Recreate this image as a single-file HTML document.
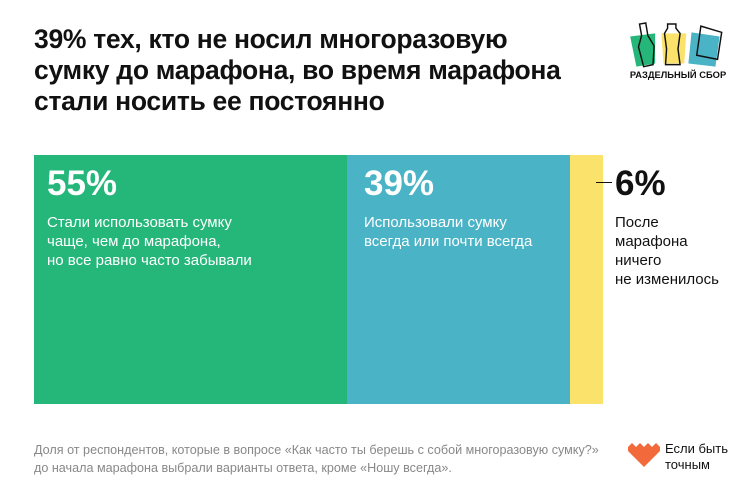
<!DOCTYPE html>
<html><head><meta charset="utf-8"><style>
body{margin:0;width:753px;height:500px;background:#fff;font-family:"Liberation Sans",sans-serif;position:relative;overflow:hidden;color:#111}
.t{position:absolute;left:34px;top:24px;font-size:26.5px;font-weight:bold;line-height:31px;letter-spacing:-0.3px}
.bar{position:absolute;top:155px;height:249px}
.big{position:absolute;font-size:35px;color:#fff;font-weight:bold}
.sm{position:absolute;font-size:15px;line-height:19px;color:#fff}
.foot{position:absolute;left:34px;top:441px;font-size:12.6px;line-height:18px;color:#888}
</style></head><body>
<div class="t">39% тех, кто не носил многоразовую<br>сумку до марафона, во время марафона<br>стали носить ее постоянно</div>
<svg style="position:absolute;left:626px;top:16px" width="104" height="66" viewBox="0 0 100 60">
<polygon points="4,18 28,15 28,44 10,47" fill="#25b67a"/>
<polygon points="34,15 58,15 56,44 36,44" fill="#fbe36b"/>
<polygon points="63,14 90,18 86,47 60,44" fill="#4ab3c6"/>
<path d="M13,6 L19,5 L21,17 L27,27 L26,45 L17,47 L12,28 L15,17Z" fill="none" stroke="#111" stroke-width="1.4"/>
<path d="M40,6 L48,6 L48,10 L52,15 L50,30 L52,45 L38,45 L39,30 L37,15 L40,10Z" fill="none" stroke="#111" stroke-width="1.4"/>
<path d="M72,8 L92,14 L88,40 L68,36Z" fill="none" stroke="#111" stroke-width="1.4"/>
<text x="50" y="58" font-size="9" font-weight="bold" text-anchor="middle" font-family="Liberation Sans" fill="#111">РАЗДЕЛЬНЫЙ СБОР</text>
</svg>
<div class="bar" style="left:34px;width:313px;background:#25b67a"></div>
<div class="bar" style="left:347px;width:223px;background:#4ab3c6"></div>
<div class="bar" style="left:570px;width:33px;background:#fbe36b"></div>
<div class="big" style="left:47px;top:164px">55%</div>
<div class="sm" style="left:47px;top:213px">Стали использовать сумку<br>чаще, чем до марафона,<br>но все равно часто забывали</div>
<div class="big" style="left:364px;top:164px">39%</div>
<div class="sm" style="left:364px;top:213px">Использовали сумку<br>всегда или почти всегда</div>
<div style="position:absolute;left:596px;top:182px;width:16px;height:1px;background:#111"></div>
<div class="big" style="left:615px;top:164px;color:#111">6%</div>
<div class="sm" style="left:615px;top:213px;color:#111">После<br>марафона<br>ничего<br>не изменилось</div>
<div class="foot">Доля от респондентов, которые в вопросе «Как часто ты берешь с собой многоразовую сумку?»<br>до начала марафона выбрали варианты ответа, кроме «Ношу всегда».</div>
<svg style="position:absolute;left:628px;top:443px" width="32" height="24" viewBox="0 0 32 24"><path d="M0,4 L4,0 L8,4 L12,0 L16,4 L20,0 L24,4 L28,0 L32,4 L32,8 L16,24 L0,8Z" fill="#f26a3c"/></svg>
<div style="position:absolute;left:665px;top:441px;font-size:13px;line-height:16px;color:#111">Если быть<br>точным</div>
</body></html>
